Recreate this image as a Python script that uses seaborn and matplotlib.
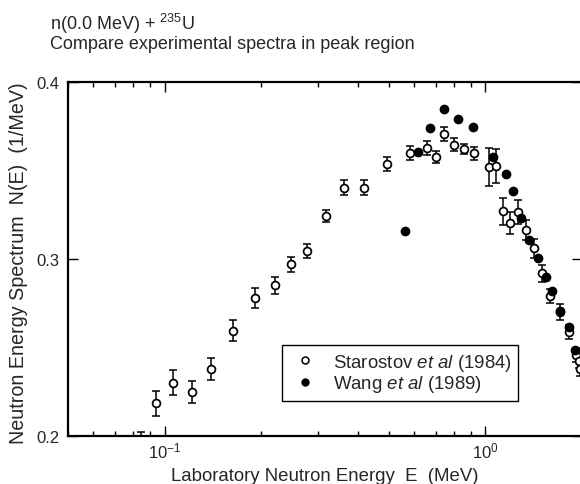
import numpy as np
import pandas as pd
import matplotlib
matplotlib.use("Agg")
import matplotlib.pyplot as plt
import seaborn as sns
from matplotlib.ticker import LogLocator, NullFormatter, FixedLocator, FixedFormatter
from matplotlib.lines import Line2D

# ---- data ----
star_E = [0.0842, 0.0942, 0.1064, 0.1214, 0.1394, 0.1633, 0.191, 0.2213, 0.2473, 0.2786,
          0.318, 0.363, 0.4198, 0.4928, 0.5808, 0.656, 0.700, 0.745, 0.799, 0.856,
          0.920, 1.024, 1.077, 1.132, 1.194, 1.264, 1.335, 1.414, 1.497, 1.594,
          1.703, 1.818, 1.920, 1.953, 1.967]
star_N = [0.195, 0.2185, 0.2301, 0.2249, 0.2379, 0.2595, 0.278, 0.2851, 0.297, 0.3045,
          0.3243, 0.3403, 0.3403, 0.3535, 0.3597, 0.3625, 0.3578, 0.3708, 0.3646, 0.3621,
          0.3597, 0.3521, 0.3527, 0.3269, 0.3203, 0.3267, 0.3164, 0.306, 0.2919, 0.279,
          0.270, 0.2589, 0.2458, 0.2425, 0.238]
star_err = [0.0073, 0.007, 0.007, 0.006, 0.0062, 0.0061, 0.0056, 0.0049, 0.0042, 0.0037,
            0.0036, 0.0042, 0.0042, 0.004, 0.004, 0.004, 0.0033, 0.004, 0.0035, 0.003,
            0.0035, 0.0106, 0.0097, 0.0075, 0.0061, 0.0068, 0.0054, 0.0052, 0.0049, 0.0038,
            0.0044, 0.004, 0.004, 0.004, 0.004]

wang_E = [0.5634, 0.6171, 0.6725, 0.7436, 0.8222, 0.9175, 1.054, 1.163, 1.22, 1.292,
          1.368, 1.455, 1.541, 1.609, 1.703, 1.818, 1.907]
wang_N = [0.316, 0.3603, 0.3742, 0.3846, 0.3791, 0.3746, 0.3578, 0.348, 0.3386, 0.323,
          0.3107, 0.3006, 0.29, 0.2821, 0.2705, 0.2618, 0.2486]
wang_err = [0.002, 0.0015, 0.0015, 0.0015, 0.0015, 0.0015, 0.0015, 0.0015, 0.0015, 0.0015,
            0.0015, 0.0015, 0.0015, 0.0015, 0.0015, 0.0015, 0.0015]

y_ticks = [0.2, 0.3, 0.4]
y_ticklabels = ["0.2", "0.3", "0.4"]
x_limits = (0.05, 2.0)
y_limits = (0.2, 0.4)

title1 = "n(0.0 MeV) + $^{235}$U"
title2 = "Compare experimental spectra in peak region"
x_label = "Laboratory Neutron Energy  E  (MeV)"
y_label = "Neutron Energy Spectrum  N(E)  (1/MeV)"
label_star = "Starostov $\\mathit{et\\ al}$ (1984)"
label_wang = "Wang $\\mathit{et\\ al}$ (1989)"

# ---- style ----
sns.set_style("ticks")
plt.rcParams["font.family"] = ["Liberation Sans", "DejaVu Sans"]
plt.rcParams["mathtext.fontset"] = "custom"
plt.rcParams["mathtext.rm"] = "Liberation Sans"
plt.rcParams["mathtext.it"] = "Liberation Sans:italic"
plt.rcParams["mathtext.bf"] = "Liberation Sans:bold"

W, H = 580, 485
fig = plt.figure(figsize=(W / 100, H / 100), dpi=100)
ax_left, ax_right, ax_top, ax_bottom = 68, 582, 83, 437
ax = fig.add_axes([ax_left / W, (H - ax_bottom) / H,
                   (ax_right - ax_left) / W, (ax_bottom - ax_top) / H])

star_df = pd.DataFrame({"E": star_E, "N": star_N, "err": star_err})
wang_df = pd.DataFrame({"E": wang_E, "N": wang_N, "err": wang_err})

ax.errorbar(star_df["E"], star_df["N"], yerr=star_df["err"], fmt="none",
            ecolor="black", elinewidth=1.1, capsize=2.6, capthick=1.1, zorder=2)
ax.errorbar(wang_df["E"], wang_df["N"], yerr=wang_df["err"], fmt="none",
            ecolor="black", elinewidth=1.1, capsize=0, zorder=2)
sns.scatterplot(data=star_df, x="E", y="N", ax=ax, marker="o", s=32,
                facecolor="white", edgecolor="black", linewidth=1.25, zorder=3, legend=False)
sns.scatterplot(data=wang_df, x="E", y="N", ax=ax, marker="o", s=36,
                facecolor="black", edgecolor="black", linewidth=1.0, zorder=4, legend=False)

ax.set_xscale("log")
ax.set_xlim(*x_limits)
ax.set_ylim(*y_limits)
ax.yaxis.set_major_locator(FixedLocator(y_ticks))
ax.yaxis.set_major_formatter(FixedFormatter(y_ticklabels))
ax.yaxis.set_minor_locator(FixedLocator([]))
ax.xaxis.set_major_locator(LogLocator(base=10))
ax.xaxis.set_minor_locator(LogLocator(base=10, subs=np.arange(2, 10)))
ax.xaxis.set_minor_formatter(NullFormatter())

for s in ax.spines.values():
    s.set_linewidth(1.6)
    s.set_color("black")
ax.tick_params(which="both", direction="in", top=True, right=True, color="black", width=1.0)
ax.tick_params(which="major", length=7.5, labelsize=12)
ax.tick_params(which="minor", length=3.6)
ax.tick_params(axis="x", which="major", pad=3)
ax.tick_params(axis="y", which="major", pad=6)

ax.set_xlabel(x_label, fontsize=13.4)
ax.set_ylabel(y_label, fontsize=14.2)
ax.xaxis.set_label_coords(0.5, -0.088)
ax.yaxis.set_label_coords(-0.078, 0.49)

fig.text(50 / W, 1 - 30 / H, title1, fontsize=13, ha="left", va="baseline")
fig.text(50 / W, 1 - 49 / H, title2, fontsize=13, ha="left", va="baseline")

handles = [
    Line2D([], [], marker="o", linestyle="none", markersize=5, markerfacecolor="white",
           markeredgecolor="black", markeredgewidth=1.1),
    Line2D([], [], marker="o", linestyle="none", markersize=5, markerfacecolor="black",
           markeredgecolor="black"),
]
leg = ax.legend(handles, [label_star, label_wang], loc="lower left",
                bbox_to_anchor=(0.416, 0.099), fontsize=13.4, frameon=True, fancybox=False,
                edgecolor="black", framealpha=1, borderpad=0.35, handlelength=1.77,
                handletextpad=0.62, labelspacing=0.05, borderaxespad=0)
leg.get_frame().set_linewidth(1.0)

fig.savefig("out.png", dpi=100)
